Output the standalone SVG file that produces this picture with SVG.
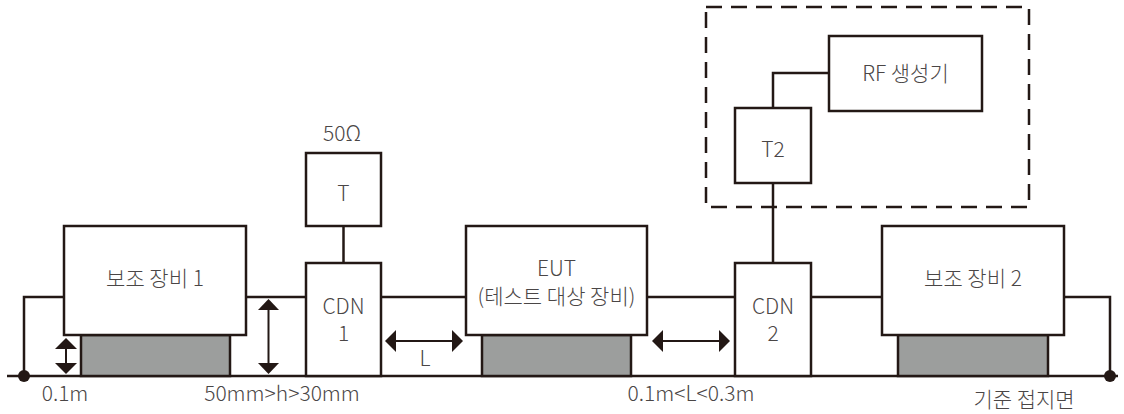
<svg xmlns="http://www.w3.org/2000/svg" width="1124" height="414" viewBox="0 0 1124 414">
<style>
.b{fill:#fff;stroke:#231815;stroke-width:2.500}
.g{fill:#9c9e9d;stroke:#231815;stroke-width:2.500}
.l{fill:none;stroke:#231815;stroke-width:2.500}
.s{fill:none;stroke:#231815;stroke-width:2}
.d{fill:none;stroke:#231815;stroke-width:2.500;stroke-dasharray:16 9}
.a{fill:#231815}
text{font-family:"Noto Sans CJK KR","Noto Sans",sans-serif;font-size:21px;fill:#4a4646;text-anchor:middle;font-weight:300}
</style>
<rect width="1124" height="414" fill="#fff"/>
<g id="connectors">
<path class="l" d="M7 376H1118"/>
<path class="l" d="M64 297H24V376"/>
<path class="l" d="M246 297H306"/>
<path class="l" d="M381 297H466"/>
<path class="l" d="M647 297H735"/>
<path class="l" d="M811 297H882"/>
<path class="l" d="M1064 297H1110V376"/>
<path class="l" d="M343.500 226V263"/>
<path class="l" d="M829 73H773V108"/>
<circle class="a" cx="24" cy="376" r="6"/>
<circle class="a" cx="1110" cy="376" r="6"/>
<path class="s" d="M66 345V368"/>
<polygon class="a" points="66,338 77,349 55,349"/>
<polygon class="a" points="66,374 77,363 55,363"/>
<path class="s" d="M268.500 305V368"/>
<polygon class="a" points="268.500,299 279,310 258,310"/>
<polygon class="a" points="268.500,374 279,363 258,363"/>
<path class="s" d="M392 341H456"/>
<polygon class="a" points="385,341 396,330 396,352"/>
<polygon class="a" points="463,341 452,330 452,352"/>
<path class="s" d="M659 341H723"/>
<polygon class="a" points="652,341 663,330 663,352"/>
<polygon class="a" points="730,341 719,330 719,352"/>
</g>
<g id="frame"><rect class="d" x="706" y="7" width="323" height="200"/></g>
<g id="t2link"><path class="l" d="M773 183V263"/></g>
<g id="support1"><rect class="g" x="81" y="335" width="149" height="41"/></g>
<g id="support2"><rect class="g" x="482" y="335" width="149" height="41"/></g>
<g id="support3"><rect class="g" x="898" y="335" width="150" height="41"/></g>
<g id="aux1"><rect class="b" x="64" y="226" width="182" height="109"/><text x="155" y="286">보조 장비 1</text></g>
<g id="t"><rect class="b" x="306" y="153" width="75" height="73"/><text x="343.500" y="201">T</text></g>
<g id="cdn1"><rect class="b" x="306" y="263" width="75" height="113"/><text x="343.500" y="314">CDN<tspan x="343.500" dy="27">1</tspan></text></g>
<g id="eut"><rect class="b" x="466" y="226" width="181" height="109"/><text x="556.500" y="276">EUT<tspan x="556.500" dy="28">(테스트 대상 장비)</tspan></text></g>
<g id="cdn2"><rect class="b" x="735" y="263" width="76" height="113"/><text x="773" y="314">CDN<tspan x="773" dy="27">2</tspan></text></g>
<g id="aux2"><rect class="b" x="882" y="226" width="182" height="109"/><text x="973" y="286">보조 장비 2</text></g>
<g id="t2"><rect class="b" x="735" y="108" width="76" height="75"/><text x="773" y="157">T2</text></g>
<g id="rf"><rect class="b" x="829" y="36" width="153" height="75"/><text x="905.500" y="81">RF 생성기</text></g>
<g id="labels">
<text x="342" y="141">50Ω</text>
<text x="65" y="401">0.1m</text>
<text x="282" y="401">50mm&gt;h&gt;30mm</text>
<text x="425" y="366">L</text>
<text x="691" y="401">0.1m&lt;L&lt;0.3m</text>
<text x="1024" y="407">기준 접지면</text>
</g>
</svg>
